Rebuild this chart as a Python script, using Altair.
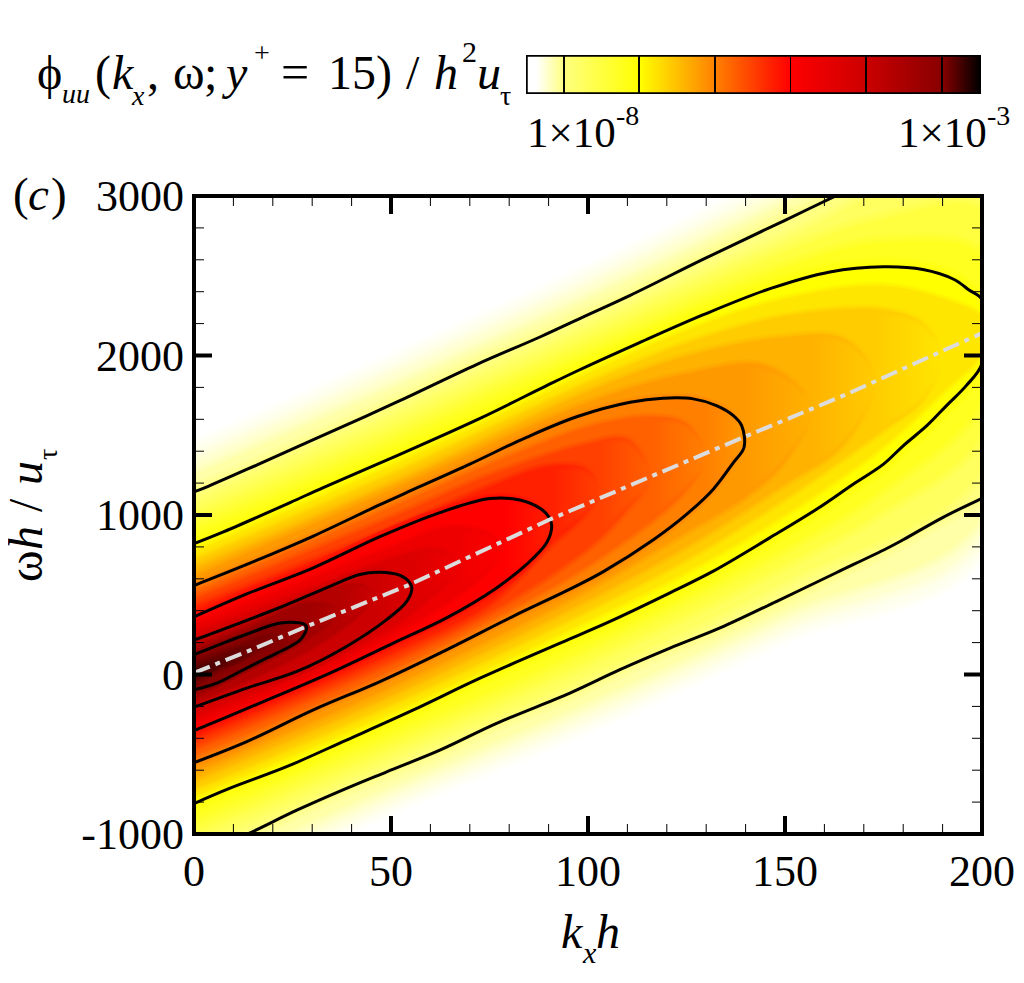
import altair as alt
import pandas as pd

# plot area in pixels
W = 788
H = 638
SERIF = "Liberation Serif"

# the six contour lines (kx h, omega h / u_tau)
# points past the plot edge only keep the curve straight where it leaves the frame
L1_KX = [0, 3.6, 15.9, 30.3, 51.4, 71.7, 87.8, 97.5, 110.7, 129.3, 149.6, 163, 185, 230, 230,
         200, 190, 180, 175.8, 163, 147.9, 133.5, 120.8, 108.1, 95.4, 76.8, 62.4, 48.9, 38.7, 26.1, 13.8, 0]
L1_W = [1145, 1180, 1313, 1472, 1707, 1943, 2116, 2227, 2377, 2604, 2843, 3002, 3260, 3260, 1460,
        1105, 984, 845, 790, 638, 459, 292, 165, 30, -117, -306, -474, -610, -714, -851, -998, -1150]
L2_KX = [0, 7, 24.4, 32.8, 51.4, 72.6, 89.5, 97.5, 112.4, 129.3, 146.2, 161.4, 175, 185, 192.8, 196.8, 200,
         200, 196, 191, 186, 180, 175, 167.3, 158, 146.2, 131.8, 120.8, 105.6, 95.4, 72.6, 55.7, 38.7, 23.5, 9, 0]
L2_W = [820, 889, 1078, 1172, 1371, 1606, 1811, 1906, 2073, 2256, 2419, 2524, 2556, 2539, 2478, 2409, 2350,
        1950, 1811, 1686, 1560, 1434, 1319, 1193, 1036, 858, 648, 512, 333, 223, -23, -222, -411, -578, -714, -809]
L3_KX = [0, 13.4, 30.3, 47.2, 55.7, 70, 84.4, 97.5, 110.7, 119, 126.7, 132.6, 136.9, 139, 139.6,
         136.9, 131.8, 125, 116.6, 103.9, 95.4, 81, 64.1, 47.2, 30.3, 13.4, 0]
L3_W = [558, 690, 868, 1065, 1160, 1319, 1487, 1619, 1707, 1732, 1728, 1686, 1623, 1560, 1424,
        1329, 1162, 1004, 845, 645, 535, 365, 155, -44, -222, -421, -553]
L4_KX = [0, 13.4, 30.3, 47.2, 62.4, 75.1, 82.7, 88.2, 90.2, 90.8, 89.5, 84.4, 76.8, 64.1, 50.6, 34.5, 17.6, 0]
L4_W = [361, 505, 669, 864, 1015, 1103, 1094, 1036, 983, 931, 826, 690, 543, 355, 197, 9, -170, -352]
L5_KX = [0, 21.8, 34.5, 42.1, 47.2, 52.3, 54.8, 55.3, 54, 48.9, 38.7, 26.1, 13.4, 0]
L5_W = [215, 420, 553, 627, 641, 621, 575, 543, 459, 344, 176, 19, -85, -205]
L6_KX = [0, 7.4, 14.2, 20.1, 24.4, 28.2, 28.6, 27, 24.4, 18.4, 11.7, 5.8, 0]
L6_W = [124, 197, 260, 312, 327, 312, 292, 218, 176, 103, 19, -54, -96]

# estimated in-between isolines, only there to shade the field
P1_KX = [0, 50, 100, 150, 200, 200, 150, 100, 50, 0]
P1_W = [1420, 1960, 2520, 3120, 3750, 780, 245, -320, -830, -1400]
P2_W = [1335, 1875, 2435, 3030, 3660, 885, 320, -245, -765, -1340]
P3_W = [1245, 1785, 2345, 2940, 3570, 995, 400, -165, -690, -1250]
S1_W = [1070, 1610, 2170, 2720, 3200, 1300, 590, 0, -530, -1070]
S2_KX = [0, 50, 100, 150, 175, 200, 200, 175, 150, 100, 50, 0]
S2_W = [985, 1525, 2090, 2640, 2850, 2900, 1530, 1040, 700, 95, -450, -980]
S3_W = [900, 1440, 2010, 2540, 2700, 2620, 1740, 1180, 805, 185, -370, -895]
T1_KX = [0, 50, 100, 125, 150, 175, 190, 200, 200, 190, 175, 150, 125, 100, 50, 0]
T1_W = [765, 1300, 1880, 2150, 2350, 2430, 2350, 2230, 2030, 1780, 1440, 1010, 650, 345, -235, -760]
T2_KX = [0, 50, 100, 125, 150, 175, 185, 190, 185, 175, 150, 125, 100, 50, 0]
T2_W = [710, 1245, 1820, 2070, 2240, 2280, 2200, 2000, 1720, 1540, 1110, 730, 410, -180, -710]
T3_KX = [0, 50, 100, 125, 150, 165, 173, 165, 150, 125, 100, 50, 0]
T3_W = [660, 1190, 1765, 1990, 2110, 2100, 1850, 1450, 1200, 810, 475, -125, -655]
T4_KX = [0, 50, 100, 125, 145, 157, 150, 140, 125, 100, 50, 0]
T4_W = [610, 1150, 1700, 1880, 1930, 1680, 1340, 1120, 900, 540, -70, -605]
R1_KX = [0, 50, 75, 100, 115, 125, 130, 125, 100, 75, 50, 0]
R1_W = [510, 1040, 1310, 1545, 1610, 1570, 1360, 1160, 690, 345, 30, -505]
R2_KX = [0, 50, 75, 100, 110, 116, 110, 100, 75, 50, 0]
R2_W = [465, 975, 1240, 1440, 1470, 1230, 1040, 800, 395, 85, -450]
R3_KX = [0, 50, 75, 90, 100, 103, 100, 90, 75, 50, 0]
R3_W = [415, 905, 1170, 1300, 1280, 1130, 1020, 810, 450, 135, -400]
C1_KX = [0, 25, 50, 65, 75, 79, 75, 65, 50, 25, 0]
C1_W = [310, 550, 790, 920, 880, 790, 660, 470, 250, -60, -300]
C2_KX = [0, 25, 50, 60, 65, 67, 65, 60, 50, 25, 0]
C2_W = [260, 490, 720, 780, 760, 690, 590, 490, 300, -10, -255]
D1_KX = [0, 20, 35, 43, 46, 43, 35, 20, 0]
D1_W = [180, 380, 535, 560, 480, 400, 250, 40, -170]
D2_KX = [0, 15, 28, 35, 37, 35, 28, 15, 0]
D2_W = [150, 300, 440, 430, 385, 330, 220, 50, -135]
E1_KX = [0, 10, 18, 22, 18, 10, 0]
E1_W = [90, 170, 240, 240, 170, 70, -70]
E2_KX = [0, 6, 12, 16, 12, 6, 0]
E2_W = [60, 110, 165, 170, 95, 40, -45]
E3_KX = [0, 5, 10, 5, 0]
E3_W = [35, 75, 110, 35, -20]
E4_KX = [0, 3, 5, 3, 0]
E4_W = [15, 45, 50, 15, -10]

# outermost first: colour, soft edge in px towards the previous colour, path
FILLS = [
    ("#FFFFEE", 12, P1_KX, P1_W), ("#FFFFD0", 12, P1_KX, P2_W), ("#FFFFA8", 12, P1_KX, P3_W),
    ("#FFFF80", 12, L1_KX, L1_W), ("#FFFF60", 12, P1_KX, S1_W), ("#FFFF40", 12, S2_KX, S2_W),
    ("#FFFF20", 12, S2_KX, S3_W), ("#FFFF00", 12, L2_KX, L2_W), ("#FFE600", 7, T1_KX, T1_W),
    ("#FFCC00", 7, T2_KX, T2_W), ("#FFB300", 7, T3_KX, T3_W), ("#FF9900", 7, T4_KX, T4_W),
    ("#FF8000", 7, L3_KX, L3_W), ("#FF6000", 7, R1_KX, R1_W), ("#FF4000", 7, R2_KX, R2_W),
    ("#FF2000", 7, R3_KX, R3_W), ("#FF0000", 7, L4_KX, L4_W), ("#EE0000", 7, C1_KX, C1_W),
    ("#DD0000", 7, C2_KX, C2_W), ("#CC0000", 7, L5_KX, L5_W), ("#B50000", 5, D1_KX, D1_W),
    ("#9F0000", 5, D2_KX, D2_W), ("#880000", 5, L6_KX, L6_W), ("#770000", 4, E1_KX, E1_W),
    ("#640000", 4, E2_KX, E2_W), ("#500000", 4, E3_KX, E3_W), ("#3A0000", 3, E4_KX, E4_W),
]
CONTOURS = [(L1_KX, L1_W), (L2_KX, L2_W), (L3_KX, L3_W), (L4_KX, L4_W), (L5_KX, L5_W), (L6_KX, L6_W)]

# dash-dot ridge line
RIDGE_KX = [0, 14.2, 28.6, 54.8, 90.4, 139.4, 164.8, 200]
RIDGE_W = [10, 151, 302, 564, 973, 1487, 1748, 2140]

X_MAJOR = [0, 50, 100, 150, 200]
X_MINOR = [10, 20, 30, 40, 60, 70, 80, 90, 110, 120, 130, 140, 160, 170, 180, 190]
Y_MAJOR = [-1000, 0, 1000, 2000, 3000]
Y_MINOR = [-800, -600, -400, -200, 200, 400, 600, 800, 1200, 1400, 1600, 1800, 2200, 2400, 2600, 2800]

# colour bar: stops along the bar, and the contour levels in px
BAR_LEFT, BAR_RIGHT = 333, 786
BAR_OFFSETS = [0, 0.02, 0.082, 0.248, 0.416, 0.581, 0.748, 0.916, 1]
BAR_COLORS = ["#FFFFFF", "#FFFFFF", "#FFFF80", "#FFFF00", "#FF8000", "#FF0000", "#CC0000", "#880000", "#000000"]
BAR_LINES = [370, 445, 521, 596.5, 672, 748]

x_scale = alt.Scale(domain=[0, 200], nice=False, zero=False)
y_scale = alt.Scale(domain=[-1000, 3000], nice=False, zero=False)


def path_chart(kx, w):
    df = pd.DataFrame({"kx": kx, "w": w, "i": range(len(kx))})
    return alt.Chart(df)


def path_enc(chart):
    return chart.encode(
        x=alt.X("kx:Q", scale=x_scale, axis=None),
        y=alt.Y("w:Q", scale=y_scale, axis=None),
        order="i:Q",
    )


def mix(c1, c2, t):
    a = [int(c1[i:i + 2], 16) for i in (1, 3, 5)]
    b = [int(c2[i:i + 2], 16) for i in (1, 3, 5)]
    return "#" + "".join(f"{round(p + (q - p) * t):02X}" for p, q in zip(a, b))


def paint(color, fade):
    # closed isolines fade out towards their tip, so the ridge has no steps
    if fade is None:
        return color
    r, g, b = [int(color[i:i + 2], 16) for i in (1, 3, 5)]
    solid = f"rgba({r},{g},{b},1)"
    clear = f"rgba({r},{g},{b},0)"
    stops = [alt.GradientStop(color=solid, offset=0), alt.GradientStop(color=solid, offset=fade),
             alt.GradientStop(color=clear, offset=1)]
    return alt.LinearGradient(gradient="linear", stops=stops, x1=0, x2=1, y1=0, y2=0)


layers = []
axis_df = pd.DataFrame({"kx": X_MAJOR, "w": Y_MAJOR})

prev = "#FFFFFF"
for n, (color, soft, kx, w) in enumerate(FILLS):
    tip = max(kx)
    fade = None
    if tip < 200:
        fade = max(FILLS[n + 1][2]) / tip if n + 1 < len(FILLS) else 0.0
    # wide strokes of in-between colours soften the step to the previous level
    for f in (0.75, 0.5, 0.25):
        layers.append(path_enc(path_chart(kx, w).mark_line(
            stroke=paint(mix(prev, color, 1 - f), fade), strokeWidth=2 * soft * f, strokeJoin="round",
            clip=True, interpolate="catmull-rom")))
    layers.append(path_enc(path_chart(kx, w).mark_line(
        fill=paint(color, fade), stroke=paint(color, fade), strokeWidth=1, clip=True, interpolate="catmull-rom")))
    prev = color

for kx, w in CONTOURS:
    layers.append(path_enc(path_chart(kx, w).mark_line(color="black", strokeWidth=3, clip=True, interpolate="catmull-rom")))

layers.append(path_enc(path_chart(RIDGE_KX, RIDGE_W).mark_line(
    color="#DCDCDC", strokeWidth=4, strokeDash=[17, 6, 5, 6], clip=True)))


def tick_rules(values, field, start, length, width):
    # inward ticks, the schema takes no negative tickSize
    df = pd.DataFrame({field: values})
    scale = x_scale if field == "kx" else y_scale
    out = []
    for pos in start:
        base = alt.Chart(df).mark_rule(color="black", strokeWidth=width)
        if field == "kx":
            end = length if pos == 0 else H - length
            out.append(base.encode(x=alt.X("kx:Q", scale=scale, axis=None), y=alt.value(pos), y2=alt.value(end)))
        else:
            end = length if pos == 0 else W - length
            out.append(base.encode(y=alt.Y("w:Q", scale=scale, axis=None), x=alt.value(pos), x2=alt.value(end)))
    return out


layers += tick_rules(X_MINOR, "kx", [0, H], 10, 1)
layers += tick_rules(X_MAJOR[1:-1], "kx", [0, H], 18, 4)
layers += tick_rules(Y_MINOR, "w", [0, W], 10, 1)
layers += tick_rules(Y_MAJOR[1:-1], "w", [0, W], 18, 4)

# frame
layers.append(alt.Chart(axis_df).mark_rect(filled=False, stroke="black", strokeWidth=4).encode(
    x=alt.value(0), x2=alt.value(W), y=alt.value(0), y2=alt.value(H)))

# tick labels as text, so that they keep a plain hyphen
layers.append(alt.Chart(pd.DataFrame({"kx": X_MAJOR})).mark_text(
    font=SERIF, fontSize=44, color="black", align="center", baseline="alphabetic",
).encode(x=alt.X("kx:Q", scale=x_scale, axis=None), y=alt.value(H + 52), text="kx:Q"))
layers.append(alt.Chart(pd.DataFrame({"w": Y_MAJOR, "label": [str(v) for v in Y_MAJOR]})).mark_text(
    font=SERIF, fontSize=44, color="black", align="right", baseline="alphabetic", dy=15,
).encode(y=alt.Y("w:Q", scale=y_scale, axis=None), x=alt.value(-10), text="label:N"))

# colour bar
stops = [alt.GradientStop(color=c, offset=o) for c, o in zip(BAR_COLORS, BAR_OFFSETS)]
layers.append(alt.Chart(axis_df).mark_rect(
    color=alt.LinearGradient(gradient="linear", stops=stops, x1=0, x2=1, y1=0, y2=0),
    stroke="black", strokeWidth=1.5,
).encode(x=alt.value(BAR_LEFT), x2=alt.value(BAR_RIGHT), y=alt.value(-140), y2=alt.value(-103)))
for bx in BAR_LINES:
    layers.append(alt.Chart(axis_df).mark_rule(color="black", strokeWidth=1).encode(
        x=alt.value(bx), y=alt.value(-140), y2=alt.value(-103)))

# texts: (string, x, baseline y, size, style), positions relative to the plot area
TEXTS = [
    ("ϕ", -157, -107, 48, "normal"), ("uu", -132, -93, 28, "italic"), ("(", -99, -107, 48, "normal"),
    ("k", -82, -107, 48, "italic"), ("x", -62, -91, 28, "italic"), (",", -47, -107, 48, "normal"),
    ("ω", -21, -107, 48, "normal"), (";", 10, -107, 48, "normal"), ("y", 32, -107, 48, "italic"),
    ("+", 60, -134, 28, "normal"), ("=", 87, -107, 50, "normal"), ("15)", 134, -107, 48, "normal"),
    ("/", 212, -107, 48, "normal"), ("h", 240, -107, 48, "italic"), ("2", 268, -134, 30, "normal"),
    ("u", 283, -107, 48, "italic"), ("τ", 306, -91, 28, "normal"),
    ("1×10", 333, -49, 43, "normal"), ("-8", 422, -71, 28, "normal"),
    ("1×10", 704, -49, 43, "normal"), ("-3", 793, -71, 28, "normal"),
    ("(", -181, 14, 47, "normal"), ("c", -166, 14, 47, "italic"), (")", -143, 14, 47, "normal"),
    ("k", 367, 752, 48, "italic"), ("x", 389, 767, 30, "italic"), ("h", 402, 752, 48, "italic"),
]
for s, tx, ty, size, style in TEXTS:
    layers.append(alt.Chart(axis_df.head(1)).mark_text(
        text=s, font=SERIF, fontSize=size, fontStyle=style, align="left", baseline="alphabetic", color="black",
    ).encode(x=alt.value(tx), y=alt.value(ty)))

# rotated y title
Y_TEXTS = [
    ("ω", -152, 386, 48, "normal"), ("h", -152, 354, 48, "italic"), ("/", -152, 316, 48, "normal"),
    ("u", -152, 289, 48, "italic"), ("τ", -137, 264, 28, "normal"),
]
for s, tx, ty, size, style in Y_TEXTS:
    layers.append(alt.Chart(axis_df.head(1)).mark_text(
        text=s, font=SERIF, fontSize=size, fontStyle=style, align="left", baseline="alphabetic", color="black", angle=270,
    ).encode(x=alt.value(tx), y=alt.value(ty)))

chart = alt.layer(*layers).properties(
    width=W,
    height=H,
    padding={"left": 186, "top": 188, "right": 34, "bottom": 140},
    autosize=alt.AutoSizeParams(type="none"),
).configure_view(stroke=None)

chart.save("out.html", embed_options={"renderer": "svg", "actions": False})
